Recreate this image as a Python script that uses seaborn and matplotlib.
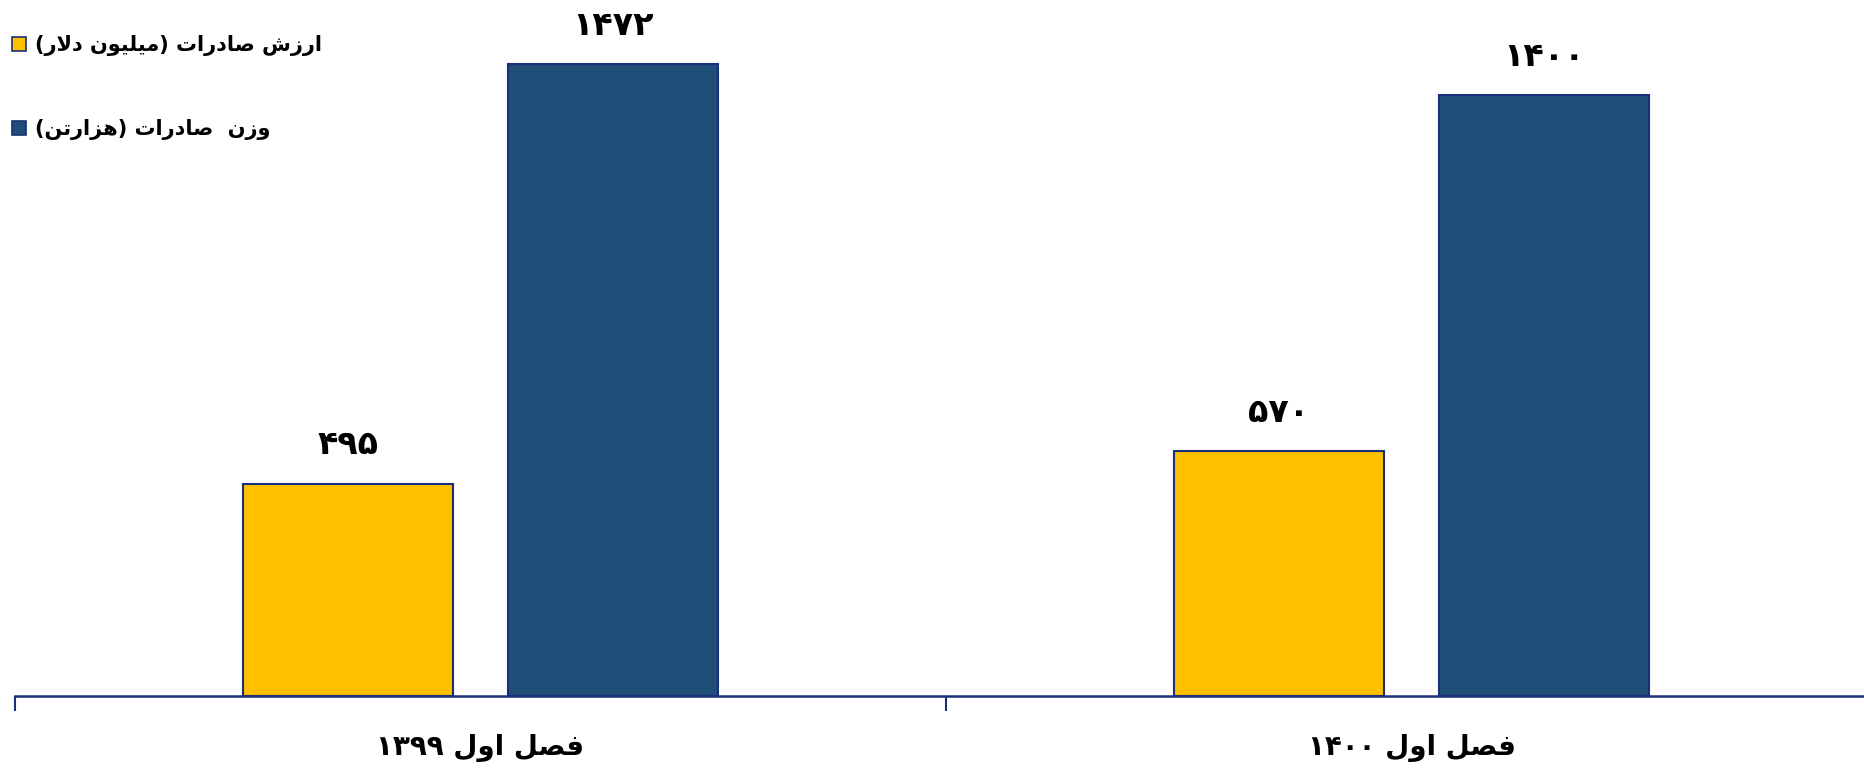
import re
import numpy as np
import pandas as pd
import matplotlib
matplotlib.use("Agg")
import matplotlib.pyplot as plt
from matplotlib.patches import Patch
import seaborn as sns

# data
periods = ["فصل اول ۱۳۹۹", "فصل اول ۱۴۰۰"]
series = ["ارزش صادرات (میلیون دلار)", "وزن  صادرات (هزارتن)"]
export_value = [495, 570]      # million dollars
export_weight = [1472, 1400]   # thousand tonnes
colors = ["#FFC000", "#1F4E79"]
NAVY = "#1A2F78"

# --- minimal Persian shaping (matplotlib has no bidi / joining support) ---
FORMS = {
    "ا": ("\uFE8D", "\uFE8E"), "د": ("\uFEA9", "\uFEAA"),
    "ر": ("\uFEAD", "\uFEAE"), "ز": ("\uFEAF", "\uFEB0"),
    "و": ("\uFEED", "\uFEEE"),
    "ت": ("\uFE95", "\uFE96", "\uFE97", "\uFE98"),
    "ش": ("\uFEB5", "\uFEB6", "\uFEB7", "\uFEB8"),
    "ص": ("\uFEB9", "\uFEBA", "\uFEBB", "\uFEBC"),
    "ف": ("\uFED1", "\uFED2", "\uFED3", "\uFED4"),
    "ل": ("\uFEDD", "\uFEDE", "\uFEDF", "\uFEE0"),
    "م": ("\uFEE1", "\uFEE2", "\uFEE3", "\uFEE4"),
    "ن": ("\uFEE5", "\uFEE6", "\uFEE7", "\uFEE8"),
    "ه": ("\uFEE9", "\uFEEA", "\uFEEB", "\uFEEC"),
    "ی": ("\uFBFC", "\uFBFD", "\uFEF3", "\uFEF4"),
}


def _shape(s):
    out, i = [], 0
    while i < len(s):
        c = s[i]
        prev = s[i - 1] if i > 0 else None
        nxt = s[i + 1] if i + 1 < len(s) else None
        if c not in FORMS:
            out.append(c); i += 1; continue
        jp = prev in FORMS and len(FORMS[prev]) == 4
        if c == "ل" and nxt == "ا":  # lam-alef ligature
            out.append("\uFEFC" if jp else "\uFEFB"); i += 2; continue
        f = FORMS[c]
        jn = len(f) == 4 and nxt in FORMS
        if jp and jn:
            out.append(f[3])
        elif jp:
            out.append(f[1])
        elif jn:
            out.append(f[2])
        else:
            out.append(f[0])
        i += 1
    return "".join(out)


def fa(s):
    runs = re.findall(r"[۰-۹0-9]+|.", _shape(s))
    mirror = {"(": ")", ")": "("}
    return "".join(mirror.get(r, r) for r in reversed(runs))


def fa_digits(n):
    return str(n).translate(str.maketrans("0123456789", "۰۱۲۳۴۵۶۷۸۹"))


df = pd.DataFrame({
    "period": periods * 2,
    "series": [series[0]] * 2 + [series[1]] * 2,
    "value": export_value + export_weight,
})

sns.set_style("white")
plt.rcParams["font.family"] = ["DejaVu Sans"]
plt.rcParams["text.color"] = "black"
plt.rcParams["xtick.labelcolor"] = "black"

W, H = 1864, 769
fig = plt.figure(figsize=(W / 100, H / 100), dpi=100)
ax = fig.add_axes([15 / W, 73 / H, 1862 / W, 696 / H])

sns.barplot(data=df, x="period", y="value", hue="series", order=periods,
            hue_order=series, palette=colors, saturation=1, width=0.57, gap=0.21,
            edgecolor=NAVY, linewidth=1.5, legend=False, ax=ax)

for cont in ax.containers:
    for bar in cont.patches:
        ax.annotate(fa_digits(int(round(bar.get_height()))),
                    (bar.get_x() + bar.get_width() / 2, bar.get_height()),
                    xytext=(0, 28), textcoords="offset points",
                    ha="center", va="center", fontsize=24, fontweight="bold",
                    color="black")

ax.set_xlim(-0.5, 1.5)
ax.set_ylim(0, 1622)
ax.set_xticks(range(len(periods)), [fa(p) for p in periods])
ax.set_xticks([-0.5, 0.5, 1.5], minor=True)
ax.tick_params(axis="x", which="major", bottom=False, length=0, pad=27, labelsize=20)
ax.tick_params(axis="x", which="minor", bottom=True, length=11, width=1.5,
               color=NAVY, direction="out")
for lab in ax.get_xticklabels():
    lab.set_fontweight("bold")
ax.set_yticks([])
ax.set_xlabel(""); ax.set_ylabel("")
for side in ["left", "top", "right"]:
    ax.spines[side].set_visible(False)
ax.spines["bottom"].set_color(NAVY)
ax.spines["bottom"].set_linewidth(1.8)

handles = [Patch(facecolor=c, edgecolor=NAVY, linewidth=1.2) for c in colors]
fig.legend(handles, [fa(s) for s in series], loc="upper left",
           bbox_to_anchor=(2 / W, 1 - 25 / H), frameon=False, borderpad=0,
           handlelength=0.65, handleheight=0.65, handletextpad=0.45,
           labelspacing=3.0, prop={"weight": "bold", "size": 15})

fig.savefig("out.png", dpi=100)
